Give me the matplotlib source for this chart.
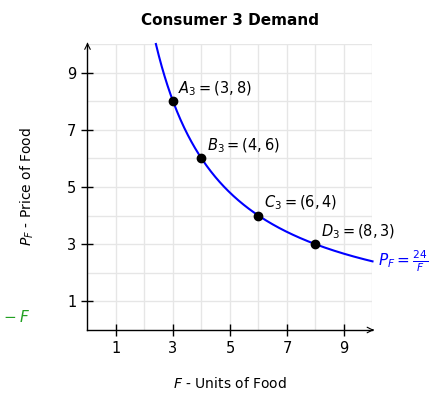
import numpy as np
import matplotlib
matplotlib.use("Agg")
import matplotlib.pyplot as plt

# Demand points for consumer 3
names = ["A_3", "B_3", "C_3", "D_3"]
F_pts = np.array([3, 4, 6, 8])
P_pts = np.array([8, 6, 4, 3])
k = 24  # P_F = k / F
ticks = [1, 3, 5, 7, 9]

fig = plt.figure(figsize=(4.39, 3.94), dpi=100)
ax = fig.add_axes([87.5 / 439, 64 / 394, 285 / 439, 286 / 394])
ax.set_xlim(0, 10)
ax.set_ylim(0, 10)

# Grid every unit
for v in range(1, 11):
    ax.axvline(v, color='#e6e6e6', lw=1, zorder=0)
    ax.axhline(v, color='#e6e6e6', lw=1, zorder=0)
ax.set_xticks(ticks)
ax.set_yticks(ticks)
ax.tick_params(which='major', direction='inout', length=9, width=1, labelsize=10.5)

for s in ['top', 'right']:
    ax.spines[s].set_visible(False)
ax.spines['left'].set_linewidth(1)
ax.spines['bottom'].set_linewidth(1)
ax.annotate('', xy=(10.05, 0), xytext=(9.9, 0), xycoords='data',
            arrowprops=dict(arrowstyle='->', lw=0.8, color='black'), annotation_clip=False)
ax.annotate('', xy=(0, 10.05), xytext=(0, 9.9), xycoords='data',
            arrowprops=dict(arrowstyle='->', lw=0.8, color='black'), annotation_clip=False)

# Demand curve
F = np.linspace(k / 10, 10, 300)
ax.plot(F, k / F, color='blue', lw=1.5, clip_on=False)
ax.plot(F_pts, P_pts, 'o', color='black', ms=6, zorder=5)
for n, fx, py in zip(names, F_pts, P_pts):
    ax.text(fx + 0.18, py + 0.45, "$%s = (%d, %d)$" % (n, fx, py), fontsize=10.5, va='center')

ax.text(10.2, 2.4, r"$P_F = \frac{24}{F}$", color='blue', fontsize=11, va='center',
        clip_on=False)
ax.text(-2.95, 0.45, r"$-\;F$", color='#22a022', fontsize=11, va='center',
        ha='left', clip_on=False)

ax.set_title("Consumer 3 Demand", fontsize=11, fontweight='bold', pad=14)
ax.set_xlabel("$F$ - Units of Food", fontsize=10, labelpad=14)
ax.set_ylabel("$P_F$ - Price of Food", fontsize=10, labelpad=22)

fig.savefig("out.png", dpi=100)
